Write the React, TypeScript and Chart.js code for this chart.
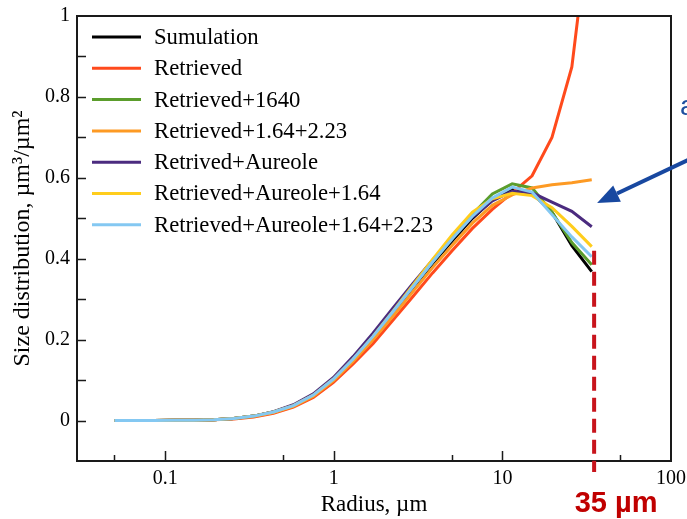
import React, { useEffect, useRef } from 'react';
import { Chart, registerables } from 'chart.js';

Chart.register(...registerables);

// Radius grid (µm), log-spaced bins
const radius = [0.05, 0.0656, 0.086, 0.113, 0.148, 0.194, 0.255, 0.335, 0.439, 0.576, 0.756, 0.992, 1.302, 1.708, 2.241, 2.94, 3.857, 5.061, 6.641, 8.713, 11.432, 15.0, 19.68, 25.82, 33.88];

// Volume size distributions, µm³/µm²
const simulation = [0, 0, 0, 0.001, 0.001, 0.002, 0.005, 0.011, 0.021, 0.037, 0.063, 0.102, 0.152, 0.207, 0.268, 0.328, 0.388, 0.445, 0.5, 0.545, 0.572, 0.562, 0.515, 0.432, 0.368];
const retrieved = [0, 0, 0, 0.001, 0.001, 0.002, 0.004, 0.009, 0.018, 0.033, 0.057, 0.094, 0.14, 0.19, 0.248, 0.306, 0.365, 0.421, 0.475, 0.522, 0.563, 0.605, 0.7, 0.874, 1.28];
const retrieved1640 = [0, 0, 0, 0.001, 0.001, 0.002, 0.005, 0.011, 0.021, 0.037, 0.063, 0.102, 0.152, 0.208, 0.27, 0.332, 0.393, 0.452, 0.51, 0.56, 0.585, 0.575, 0.515, 0.44, 0.385];
const retrieved164_223 = [0, 0, 0, 0.001, 0.001, 0.002, 0.005, 0.01, 0.02, 0.035, 0.06, 0.098, 0.146, 0.2, 0.258, 0.318, 0.378, 0.434, 0.488, 0.532, 0.558, 0.575, 0.583, 0.588, 0.595];
const retrievedAureole = [0, 0, 0, 0.001, 0.001, 0.002, 0.005, 0.011, 0.022, 0.039, 0.066, 0.106, 0.158, 0.216, 0.278, 0.338, 0.397, 0.453, 0.503, 0.543, 0.567, 0.563, 0.54, 0.517, 0.479];
const retrievedAureole164 = [0, 0, 0, 0.001, 0.001, 0.002, 0.005, 0.011, 0.021, 0.037, 0.063, 0.102, 0.152, 0.208, 0.27, 0.334, 0.398, 0.46, 0.515, 0.548, 0.562, 0.556, 0.526, 0.48, 0.43];
const retrievedAureole164_223 = [0, 0, 0, 0.001, 0.001, 0.002, 0.005, 0.011, 0.021, 0.037, 0.063, 0.102, 0.152, 0.208, 0.269, 0.33, 0.392, 0.45, 0.505, 0.55, 0.577, 0.565, 0.509, 0.454, 0.405];

const seriesLabels = [
  'Sumulation',
  'Retrieved',
  'Retrieved+1640',
  'Retrieved+1.64+2.23',
  'Retrived+Aureole',
  'Retrieved+Aureole+1.64',
  'Retrieved+Aureole+1.64+2.23',
];
const seriesValues = [simulation, retrieved, retrieved1640, retrieved164_223, retrievedAureole, retrievedAureole164, retrievedAureole164_223];
const seriesColors = ['#000000', '#ff4a1c', '#5b9d2c', '#fd9a24', '#4b2b7f', '#ffcd1c', '#84c8f2'];

// Axis ticks
const xTickValues = [0.05, 0.1, 0.5, 1, 5, 10, 50, 100];
const xTickLabels = ['0.1', '1', '10', '100'];
const yLabelledValues = [0, 0.2, 0.4, 0.6, 0.8, 1];

// Cut-off annotation
const cutoffRadius = 35;
const cutoffLabel = '35 µm';

const SERIF = "'Liberation Serif', 'Times New Roman', serif";
const SANS = "'Liberation Sans', Arial, sans-serif";

const overlayPlugin = {
  id: 'overlay',
  afterDatasetsDraw(chart: any) {
    const { ctx, chartArea } = chart;
    const xs = chart.scales.x;
    const ys = chart.scales.y;
    const { left, right, top, bottom } = chartArea;
    ctx.save();

    // frame
    ctx.strokeStyle = '#1a1a1a';
    ctx.lineWidth = 2;
    ctx.strokeRect(left, top, right - left, bottom - top);

    // inward tick marks on the bottom axis
    ctx.lineWidth = 1.5;
    ctx.beginPath();
    xs.ticks.forEach((t: any) => {
      const px = Math.round(xs.getPixelForValue(t.value)) + 0.5;
      if (px <= left + 1 || px >= right - 1) return;
      const major = xTickLabels.includes(String(t.value));
      const len = major ? 10 : 6;
      ctx.moveTo(px, bottom);
      ctx.lineTo(px, bottom - len);
    });
    // inward tick marks on the left axis
    ys.ticks.forEach((t: any) => {
      const py = Math.round(ys.getPixelForValue(t.value)) + 0.5;
      if (py <= top + 1 || py >= bottom - 1) return;
      ctx.moveTo(left, py);
      ctx.lineTo(left + 9, py);
    });
    ctx.stroke();

    // dashed cut-off line
    const cx = xs.getPixelForValue(cutoffRadius);
    ctx.strokeStyle = '#c8141c';
    ctx.lineWidth = 4;
    ctx.setLineDash([14, 7]);
    ctx.beginPath();
    ctx.moveTo(cx, ys.getPixelForValue(0.42));
    ctx.lineTo(cx, bottom + 11);
    ctx.stroke();
    ctx.setLineDash([]);

    ctx.fillStyle = '#c00000';
    ctx.font = `bold 29px ${SANS}`;
    ctx.textAlign = 'center';
    ctx.textBaseline = 'alphabetic';
    ctx.fillText(cutoffLabel, cx + 22, 512);

    // arrow pointing at the curve ends
    const tipX = cx + 3;
    const tipY = ys.getPixelForValue(0.538);
    const tailX = chart.width + 2;
    const tailY = ys.getPixelForValue(0.645);
    const ang = Math.atan2(tipY - tailY, tipX - tailX);
    const headLen = 22;
    const headHalf = 9;
    const bx = tipX - headLen * Math.cos(ang);
    const by = tipY - headLen * Math.sin(ang);
    ctx.strokeStyle = '#1848a0';
    ctx.fillStyle = '#1848a0';
    ctx.lineWidth = 4;
    ctx.beginPath();
    ctx.moveTo(tailX, tailY);
    ctx.lineTo(bx, by);
    ctx.stroke();
    ctx.beginPath();
    ctx.moveTo(tipX, tipY);
    ctx.lineTo(bx + headHalf * Math.sin(ang), by - headHalf * Math.cos(ang));
    ctx.lineTo(bx - headHalf * Math.sin(ang), by + headHalf * Math.cos(ang));
    ctx.closePath();
    ctx.fill();

    ctx.fillStyle = '#1f4f9f';
    ctx.font = `28px ${SANS}`;
    ctx.textAlign = 'left';
    ctx.fillText('a', 680, 115);

    // legend inside the plot
    ctx.font = `22.7px ${SERIF}`;
    ctx.textBaseline = 'middle';
    seriesLabels.forEach((label, i) => {
      const y = top + 21 + i * 31.3;
      ctx.strokeStyle = seriesColors[i];
      ctx.lineWidth = 3;
      ctx.beginPath();
      ctx.moveTo(left + 15, y);
      ctx.lineTo(left + 64, y);
      ctx.stroke();
      ctx.fillStyle = '#000';
      ctx.fillText(label, left + 77, y + 1);
    });

    ctx.restore();
  },
};

export default function App() {
  const canvasRef = useRef<HTMLCanvasElement>(null);

  useEffect(() => {
    const canvas = canvasRef.current;
    if (!canvas) return;
    const datasets = seriesLabels.map((label, i) => ({
      label,
      data: radius.map((r, j) => ({ x: r, y: seriesValues[i][j] })),
      borderColor: seriesColors[i],
      backgroundColor: seriesColors[i],
      borderWidth: 3,
      pointRadius: 0,
      tension: 0,
      fill: false,
      order: seriesLabels.length - i,
    }));

    const chart = new Chart(canvas, {
      type: 'line',
      data: { datasets },
      options: {
        animation: false,
        responsive: false,
        devicePixelRatio: 1,
        layout: { padding: { left: 0, right: 16, top: 16, bottom: 0 } },
        plugins: { legend: { display: false }, tooltip: { enabled: false } },
        scales: {
          x: {
            type: 'logarithmic',
            min: 0.03,
            max: 100,
            grid: { display: false, drawTicks: false },
            border: { display: false },
            afterBuildTicks: (scale: any) => {
              scale.ticks = xTickValues.map((v) => ({ value: v }));
            },
            afterFit: (scale: any) => {
              scale.height = 58;
              scale.paddingLeft = 0;
              scale.paddingRight = 0;
            },
            ticks: {
              autoSkip: false,
              maxRotation: 0,
              padding: 6,
              color: '#000',
              font: { family: SERIF, size: 20 },
              callback: (v: any) => {
                const s = String(v);
                return xTickLabels.includes(s) ? s : '';
              },
            },
            title: {
              display: true,
              text: 'Radius, µm',
              color: '#000',
              font: { family: SERIF, size: 23 },
              padding: { top: 0, bottom: 0 },
            },
          },
          y: {
            type: 'linear',
            min: -0.1,
            max: 1,
            grid: { display: false, drawTicks: false },
            border: { display: false },
            afterFit: (scale: any) => {
              scale.width = 77;
              scale.paddingTop = 0;
              scale.paddingBottom = 0;
            },
            ticks: {
              stepSize: 0.1,
              padding: 7,
              color: '#000',
              font: { family: SERIF, size: 20 },
              callback: (v: any) => {
                const r = Math.round(Number(v) * 10) / 10;
                return yLabelledValues.includes(r) ? String(r) : '';
              },
            },
            title: {
              display: true,
              text: 'Size distribution, µm³/µm²',
              color: '#000',
              font: { family: SERIF, size: 24 },
              padding: { top: 8, bottom: 0 },
            },
          },
        },
      },
      plugins: [overlayPlugin],
    });
    return () => chart.destroy();
  }, []);

  return (
    <div style={{ position: 'fixed', left: 0, top: 0, width: 687, height: 519, background: '#fff' }}>
      <canvas ref={canvasRef} width={687} height={519} style={{ display: 'block' }} />
    </div>
  );
}
